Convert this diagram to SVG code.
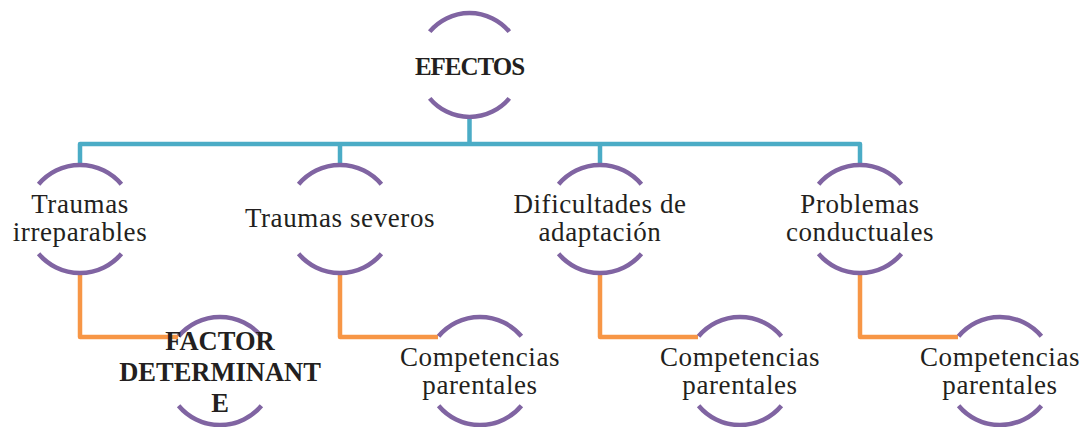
<svg xmlns="http://www.w3.org/2000/svg" width="1084" height="427" viewBox="0 0 1084 427">
<style>
.arc{fill:none;stroke:#8064A2;stroke-width:4.5}
.blue{fill:none;stroke:#4BACC6;stroke-width:4.5;stroke-linejoin:round}
.orange{fill:none;stroke:#F79646;stroke-width:4.5;stroke-linejoin:round}
.t{font-family:"Liberation Serif","Times New Roman",serif;font-size:27px;fill:#231F20;text-anchor:middle;letter-spacing:0.6px}
.b{font-family:"Liberation Serif","Times New Roman",serif;font-size:26.5px;font-weight:bold;fill:#231F20;text-anchor:middle}
</style>
<rect width="1084" height="427" fill="#fff"/>
<g id="connectors">
<path class="blue" d="M469.5,116 V144 M80,165 V144 H860 V165 M340,144 V165 M600,144 V165"/>
<path class="orange" d="M80,273 V337 H178"/>
<path class="orange" d="M340,273 V337 H438"/>
<path class="orange" d="M600,273 V337 H698"/>
<path class="orange" d="M860,273 V337 H958"/>
</g>
<g id="efectos">
<path class="arc" d="M429.7,31.6 A52,52 0 0 1 509.3,31.6 M429.7,98.4 A52,52 0 0 0 509.3,98.4"/>
<text class="b" x="469.5" y="75" style="font-size:25px;letter-spacing:-1px">EFECTOS</text>
</g>
<g id="traumas-irreparables">
<path class="arc" d="M38.6,184.3 A54,54 0 0 1 121.4,184.3 M38.6,253.7 A54,54 0 0 0 121.4,253.7"/>
<text class="t" x="80" y="212.5">Traumas</text>
<text class="t" x="80" y="241">irreparables</text>
</g>
<g id="traumas-severos">
<path class="arc" d="M298.6,184.3 A54,54 0 0 1 381.4,184.3 M298.6,253.7 A54,54 0 0 0 381.4,253.7"/>
<text class="t" x="340" y="227">Traumas severos</text>
</g>
<g id="dificultades">
<path class="arc" d="M558.6,184.3 A54,54 0 0 1 641.4,184.3 M558.6,253.7 A54,54 0 0 0 641.4,253.7"/>
<text class="t" x="600" y="212.5">Dificultades de</text>
<text class="t" x="600" y="241">adaptación</text>
</g>
<g id="problemas">
<path class="arc" d="M818.6,184.3 A54,54 0 0 1 901.4,184.3 M818.6,253.7 A54,54 0 0 0 901.4,253.7"/>
<text class="t" x="860" y="212.5">Problemas</text>
<text class="t" x="860" y="241">conductuales</text>
</g>
<g id="factor">
<path class="arc" d="M178.6,336.3 A54,54 0 0 1 261.4,336.3 M178.6,405.7 A54,54 0 0 0 261.4,405.7"/>
<text class="b" x="220" y="350">FACTOR</text>
<text class="b" x="220" y="380.5">DETERMINANT</text>
<text class="b" x="220" y="411.5">E</text>
</g>
<g id="competencias-1">
<path class="arc" d="M438.6,336.3 A54,54 0 0 1 521.4,336.3 M438.6,405.7 A54,54 0 0 0 521.4,405.7"/>
<text class="t" x="480" y="365.5">Competencias</text>
<text class="t" x="480" y="394">parentales</text>
</g>
<g id="competencias-2">
<path class="arc" d="M698.6,336.3 A54,54 0 0 1 781.4,336.3 M698.6,405.7 A54,54 0 0 0 781.4,405.7"/>
<text class="t" x="740" y="365.5">Competencias</text>
<text class="t" x="740" y="394">parentales</text>
</g>
<g id="competencias-3">
<path class="arc" d="M958.6,336.3 A54,54 0 0 1 1041.4,336.3 M958.6,405.7 A54,54 0 0 0 1041.4,405.7"/>
<text class="t" x="1000" y="365.5">Competencias</text>
<text class="t" x="1000" y="394">parentales</text>
</g>
</svg>
